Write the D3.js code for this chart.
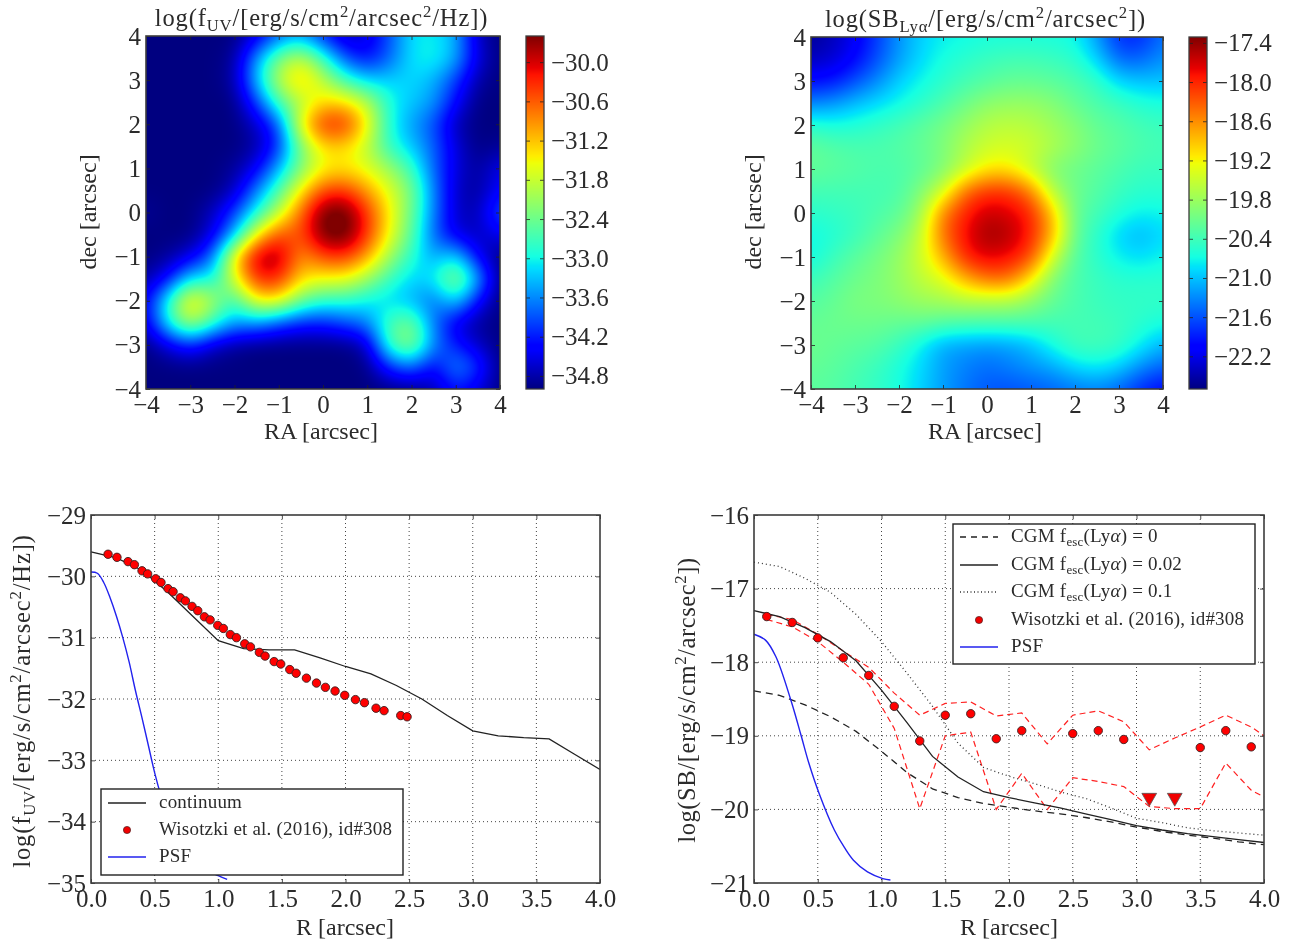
<!DOCTYPE html>
<html><head><meta charset="utf-8">
<script src="https://cdn.jsdelivr.net/npm/d3@7"></script>
<style>
html,body{margin:0;padding:0;background:#fff;}
#wrap{position:relative;width:1293px;height:945px;overflow:hidden;filter:blur(0.4px);}
canvas{position:absolute;}
svg{position:absolute;left:0;top:0;}
text{font-family:"Liberation Serif",serif;fill:#2b2b2b;}
</style></head><body><div id="wrap"></div>
<script>
// ---------- data ----------
const gridCoords = [-4,-3.5,-3,-2.5,-2,-1.5,-1,-0.5,0,0.5,1,1.5,2,2.5,3,3.5,4];
const rowCoords = [4,3.5,3,2.5,2,1.5,1,0.5,0,-0.5,-1,-1.5,-2,-2.5,-3,-3.5,-4];
const fuvMap = [
[-35,-35,-35,-35,-35,-34.57,-33.81,-33.49,-34.19,-34.73,-34.57,-33.92,-33.11,-33.06,-33.38,-34.73,-35],
[-35,-35,-35,-35,-34.89,-33.49,-32.3,-31.76,-32.73,-33.92,-34.35,-33.81,-33.11,-32.95,-33.38,-34.57,-35],
[-35,-35,-35,-35,-34.84,-33.27,-31.87,-31.11,-31.87,-32.73,-33.22,-33.22,-33.16,-33.38,-34.03,-34.84,-35],
[-35,-35,-35,-35,-35,-34.03,-32.62,-31.98,-31.33,-31.33,-31.87,-32.95,-33.27,-33.49,-34.35,-35,-35],
[-35,-35,-35,-35,-35,-34.68,-33.92,-31.44,-30.25,-30.25,-31.44,-32.95,-33.49,-33.92,-34.78,-35,-35],
[-35,-35,-35,-35,-35,-34.84,-34.14,-32.3,-31.33,-31.33,-31.87,-32.84,-33.27,-33.81,-34.57,-35,-34.89],
[-35,-35,-35,-35,-34.89,-34.46,-33.38,-32.3,-31.54,-31.44,-31.65,-32.08,-32.73,-33.81,-34.57,-34.89,-34.46],
[-35,-35,-35,-35,-34.73,-33.65,-32.62,-31.44,-30.46,-30.36,-31,-31.65,-32.3,-33.65,-34.68,-34.89,-34.35],
[-34.89,-35,-35,-34.73,-34.03,-32.95,-31.87,-30.68,-29.49,-29.38,-30.36,-31.44,-32.41,-33.65,-34.68,-34.78,-33.81],
[-35,-35,-35,-34.57,-33.38,-31.44,-30.46,-30.57,-29.49,-29.38,-30.36,-31.54,-32.52,-33.81,-34.57,-34.73,-34.46],
[-35,-34.89,-34.57,-33.81,-31.33,-29.82,-29.71,-31,-30.46,-30.36,-31,-32.08,-32.84,-33.49,-33.06,-34.46,-35],
[-34.84,-34.35,-33.06,-33.06,-31.65,-30.25,-30.25,-31.33,-31.54,-31.54,-32.08,-32.73,-33.22,-33.06,-31.98,-33.38,-35],
[-34.46,-32.84,-31.22,-31.98,-32.84,-31.44,-31.44,-32.41,-32.84,-32.84,-33.06,-33.22,-33.38,-33.81,-33.06,-34.35,-35],
[-34.57,-32.95,-31.87,-32.73,-33.49,-33.49,-33.92,-34.19,-34.19,-33.92,-33.65,-32.62,-32.3,-33.7,-34.57,-34.89,-35],
[-35,-34.57,-34.14,-34.68,-34.89,-35,-35,-35,-35,-35,-34.73,-32.62,-32.08,-33.6,-34.24,-34.68,-35],
[-35,-35,-35,-35,-35,-35,-35,-35,-35,-35,-35,-34.14,-33.7,-34.46,-33.49,-34.03,-35],
[-35,-35,-35,-35,-35,-35,-35,-35,-35,-35,-35,-35,-35,-34.78,-34.24,-34.57,-35]];
const sbMap = [
[-22.59,-22.43,-22.16,-21.73,-21.24,-20.92,-20.76,-20.71,-20.65,-20.65,-20.65,-20.65,-20.71,-21.2,-21.84,-21.84,-21.41],
[-22.43,-22.32,-22.05,-21.62,-21.19,-20.87,-20.65,-20.54,-20.44,-20.38,-20.38,-20.44,-20.54,-20.9,-21.51,-21.51,-21.24],
[-22.0,-21.95,-21.62,-21.3,-20.92,-20.71,-20.54,-20.38,-20.27,-20.17,-20.17,-20.22,-20.33,-20.49,-20.9,-21,-21],
[-21.35,-21.24,-21.03,-20.87,-20.71,-20.54,-20.33,-20.11,-19.9,-19.84,-19.84,-19.95,-20.17,-20.33,-20.44,-20.6,-20.65],
[-20.54,-20.65,-20.6,-20.49,-20.38,-20.22,-20.06,-19.84,-19.63,-19.57,-19.63,-19.79,-19.95,-20.17,-20.27,-20.38,-20.44],
[-20.17,-20.27,-20.33,-20.33,-20.27,-20.17,-20,-19.68,-19.47,-19.41,-19.47,-19.68,-19.9,-20.11,-20.22,-20.33,-20.38],
[-20.17,-20.22,-20.27,-20.33,-20.33,-20.22,-20.0,-19.57,-19.14,-19.14,-19.57,-20,-20.11,-20.22,-20.33,-20.44,-20.44],
[-20.38,-20.38,-20.38,-20.38,-20.33,-20,-19.47,-18.39,-18.06,-18.06,-18.5,-19.68,-20.11,-20.27,-20.44,-20.54,-20.54],
[-20.54,-20.49,-20.44,-20.33,-20.22,-19.79,-18.5,-17.96,-17.63,-17.74,-17.96,-18.93,-20.17,-20.38,-20.6,-20.76,-20.71],
[-20.71,-20.6,-20.44,-20.22,-20,-19.57,-18.39,-17.85,-17.42,-17.53,-17.96,-18.82,-20.17,-20.54,-20.92,-21.08,-20.87],
[-20.71,-20.44,-20.22,-20.06,-19.84,-19.47,-18.82,-17.96,-17.74,-17.85,-18.17,-19.47,-20.27,-20.54,-20.76,-20.87,-20.71],
[-20.44,-20.27,-20.11,-20,-19.84,-19.57,-19.36,-18.82,-18.39,-18.39,-19.14,-20,-20.33,-20.44,-20.54,-20.54,-20.54],
[-20.27,-20.17,-20,-20,-19.9,-19.79,-19.74,-19.63,-19.68,-19.68,-19.9,-20.17,-20.33,-20.44,-20.49,-20.49,-20.49],
[-20.17,-20.11,-20.11,-20.11,-20.17,-20.17,-20.27,-20.33,-20.33,-20.33,-20.33,-20.38,-20.38,-20.38,-20.44,-20.54,-20.65],
[-20.11,-20.17,-20.22,-20.27,-20.44,-20.76,-21.14,-21.19,-21.24,-21.19,-21.03,-20.65,-20.38,-20.38,-20.44,-20.76,-21.08],
[-20.17,-20.22,-20.33,-20.44,-20.65,-20.87,-21.19,-21.35,-21.46,-21.35,-21.24,-21.14,-20.87,-20.76,-20.92,-21.3,-21.51],
[-20.22,-20.27,-20.38,-20.49,-20.65,-20.92,-21.19,-21.41,-21.57,-21.62,-21.57,-21.51,-21.41,-21.35,-21.51,-21.84,-22.05]];
const mapTicks = [-4,-3,-2,-1,0,1,2,3,4];
const fuvBarTicks = [-30,-30.6,-31.2,-31.8,-32.4,-33,-33.6,-34.2,-34.8];
const sbBarTicks = [-17.4,-18,-18.6,-19.2,-19.8,-20.4,-21,-21.6,-22.2];
const fuvRange = [-35,-29.6];
const sbRange = [-22.7,-17.31];

const radiusTicks = [0,0.5,1,1.5,2,2.5,3,3.5,4];
const fuvYTicks = [-35,-34,-33,-32,-31,-30,-29];
const sbYTicks = [-21,-20,-19,-18,-17,-16];

const contR = [0,0.2,0.4,0.6,0.8,1,1.2,1.4,1.6,1.8,2,2.2,2.4,2.6,2.8,3,3.2,3.4,3.6,3.8,4];
const contV = [-29.6,-29.7,-29.9,-30.25,-30.65,-31.05,-31.18,-31.2,-31.2,-31.33,-31.47,-31.59,-31.78,-32,-32.27,-32.52,-32.6,-32.63,-32.65,-32.9,-33.15];
const psfUvR = [0,0.05,0.1,0.15,0.2,0.25,0.3,0.35,0.4,0.45,0.5,0.55,0.6,0.7,0.8,0.9,1,1.07];
const psfUvV = [-29.93,-29.95,-30.1,-30.35,-30.65,-31,-31.4,-31.87,-32.3,-32.75,-33.2,-33.58,-33.9,-34.35,-34.62,-34.78,-34.88,-34.94];
const wisUvR = [0.134,0.204,0.291,0.341,0.401,0.445,0.508,0.55,0.605,0.645,0.702,0.742,0.794,0.839,0.891,0.936,0.996,1.04,1.095,1.143,1.208,1.253,1.323,1.368,1.439,1.491,1.562,1.612,1.693,1.772,1.842,1.918,1.994,2.078,2.149,2.24,2.303,2.434,2.484];
const wisUvV = [-29.64,-29.69,-29.76,-29.81,-29.91,-29.96,-30.04,-30.1,-30.2,-30.25,-30.35,-30.4,-30.49,-30.56,-30.66,-30.71,-30.8,-30.85,-30.95,-31,-31.1,-31.15,-31.24,-31.3,-31.39,-31.43,-31.52,-31.58,-31.66,-31.74,-31.81,-31.87,-31.94,-32.01,-32.06,-32.15,-32.19,-32.27,-32.29];

const cgmR = contR;
const cgm0 = [-18.39,-18.45,-18.58,-18.74,-18.94,-19.21,-19.5,-19.72,-19.84,-19.92,-19.97,-20.02,-20.06,-20.11,-20.17,-20.24,-20.3,-20.35,-20.39,-20.44,-20.48];
const cgm002 = [-17.3,-17.38,-17.53,-17.72,-17.98,-18.38,-18.82,-19.28,-19.56,-19.76,-19.84,-19.91,-19.98,-20.06,-20.14,-20.22,-20.28,-20.33,-20.37,-20.41,-20.45];
const cgm01 = [-16.64,-16.7,-16.86,-17.05,-17.35,-17.72,-18.15,-18.6,-19.1,-19.43,-19.55,-19.65,-19.76,-19.85,-19.98,-20.12,-20.18,-20.25,-20.29,-20.32,-20.35];
const psfLyR = [0,0.09,0.17,0.29,0.37,0.43,0.51,0.63,0.71,0.78,0.89,1.01,1.07];
const psfLyV = [-17.62,-17.7,-17.92,-18.52,-19,-19.37,-19.78,-20.28,-20.52,-20.69,-20.85,-20.94,-20.96];
const wisLyR = [0.1,0.3,0.5,0.7,0.9,1.1,1.3,1.5,1.7,1.9,2.1,2.5,2.7,2.9,3.5,3.7,3.9];
const wisLyV = [-17.38,-17.46,-17.67,-17.94,-18.18,-18.6,-19.07,-18.72,-18.7,-19.04,-18.93,-18.97,-18.93,-19.05,-19.16,-18.93,-19.15];
const limR = [3.1,3.3];
const limV = [-19.84,-19.84];
const errR = [0.1,0.3,0.5,0.7,0.9,1.1,1.3,1.5,1.7,1.9,2.1,2.3,2.5,2.7,2.9,3.1,3.3,3.5,3.7,3.9,4];
const errHi = [-17.35,-17.42,-17.62,-17.85,-18.07,-18.42,-18.72,-18.56,-18.54,-18.73,-18.69,-19.11,-18.72,-18.66,-18.81,-19.19,-19.03,-18.88,-18.72,-18.88,-19];
const errLo = [-17.42,-17.52,-17.72,-18,-18.3,-18.9,-19.99,-19,-18.95,-20,-19.51,-20,-19.57,-19.62,-19.69,-19.96,-19.99,-19.99,-19.37,-19.74,-19.83];

// ---------- helpers ----------
const wrap = d3.select("#wrap");
const svg = wrap.append("svg").attr("width",1293).attr("height",945).style("z-index",2);
const rCh = d3.scaleLinear().domain([0,0.35,0.66,0.89,1]).range([0,0,1,1,0.5]).clamp(true);
const gCh = d3.scaleLinear().domain([0,0.125,0.375,0.64,0.91,1]).range([0,0,1,1,0,0]).clamp(true);
const bCh = d3.scaleLinear().domain([0,0.11,0.34,0.65,1]).range([0.5,1,1,0,0]).clamp(true);
const jet = t => [rCh(t)*255,gCh(t)*255,bCh(t)*255];
const AX = "#3c3c3c", TICKFONT = 25;

// cubic B-spline weights give the round, smooth contours of the source image
function bs(p0,p1,p2,p3,t){ const u=1-t;
  return (u*u*u*p0+(3*t*t*t-6*t*t+4)*p1+(-3*t*t*t+3*t*t+3*t+1)*p2+t*t*t*p3)/6; }
function sample(m,gx,gy){
  const n=m.length-1, cl=v=>Math.max(0,Math.min(n,v));
  const ix=Math.min(n-1,Math.floor(gx)), iy=Math.min(n-1,Math.floor(gy)), tx=gx-ix, ty=gy-iy;
  const col=[];
  for(let j=-1;j<=2;j++){ const r=m[cl(iy+j)];
    col.push(bs(r[cl(ix-1)],r[cl(ix)],r[cl(ix+1)],r[cl(ix+2)],tx)); }
  return bs(col[0],col[1],col[2],col[3],ty);
}
function addCanvas(x0,y0,w,h){
  return wrap.append("canvas").attr("width",w).attr("height",h)
    .style("left",x0+"px").style("top",y0+"px").style("z-index",1).node();
}
function rich(sel,parts,size,spacing){
  parts.forEach((p,i)=>{
    const [s,kind,style]=p, prev=i>0?parts[i-1][1]:null;
    const t=sel.append("tspan").text(s);
    if(style) t.style("font-style",style);
    if(spacing) t.style("letter-spacing",spacing+"px");
    let dy=0;
    if(prev==="sub") dy-=size*0.2;
    if(prev==="sup") dy+=size*0.36;
    if(kind==="sub") dy+=size*0.2;
    if(kind==="sup") dy-=size*0.36;
    if(dy) t.attr("dy",dy);
    t.style("font-size",(kind?size*0.68:size)+"px");
  });
}
function label(x,y,parts,size,rot,anchor,spacing){
  const t=svg.append("text").attr("text-anchor",anchor||"middle")
    .attr("transform",`translate(${x},${y})`+(rot?` rotate(${rot})`:""));
  rich(t,parts,size,spacing);
  return t;
}
function styleAxis(g){
  g.select(".domain").remove();
  g.selectAll("line").attr("stroke","#222").attr("stroke-width",0.8);
  g.selectAll("text").style("font-size",TICKFONT+"px").attr("fill","#2b2b2b");
}
function frame(x,y,t){
  const [x0,x1]=x.range(), [y0,y1]=y.range();
  const w=x1-x0,h=y0-y1;
  svg.append("g").attr("transform",`translate(0,${y0})`).call(d3.axisBottom(x).tickValues(t.xt).tickFormat(t.xfmt).tickSizeInner(-4).tickSizeOuter(0).tickPadding(6)).call(styleAxis);
  svg.append("g").attr("transform",`translate(0,${y1})`).call(d3.axisTop(x).tickValues(t.xt).tickFormat("").tickSizeInner(-4).tickSizeOuter(0)).call(styleAxis);
  svg.append("g").attr("transform",`translate(${x0},0)`).call(d3.axisLeft(y).tickValues(t.yt).tickFormat(t.yfmt).tickSizeInner(-4).tickSizeOuter(0).tickPadding(5)).call(styleAxis);
  svg.append("g").attr("transform",`translate(${x1},0)`).call(d3.axisRight(y).tickValues(t.yt).tickFormat("").tickSizeInner(-4).tickSizeOuter(0)).call(styleAxis);
  svg.append("rect").attr("x",x0).attr("y",y1).attr("width",w).attr("height",h)
    .attr("fill","none").attr("stroke",AX).attr("stroke-width",1.6);
}
function heatPanel(o){
  const W=o.x1-o.x0,H=o.y1-o.y0;
  const x=d3.scaleLinear().domain([-4,4]).range([o.x0,o.x1]);
  const y=d3.scaleLinear().domain([-4,4]).range([o.y1,o.y0]);
  const color=d3.scaleLinear().domain(o.range).range([0,1]).clamp(true);
  const gxs=d3.scaleLinear().domain(d3.extent(gridCoords)).range([0,gridCoords.length-1]);
  const gys=d3.scaleLinear().domain(d3.extent(rowCoords)).range([rowCoords.length-1,0]);
  const cv=addCanvas(o.x0,o.y0,W,H), c=cv.getContext("2d"), im=c.createImageData(W,H);
  for(let j=0;j<H;j++)for(let i=0;i<W;i++){
    const v=sample(o.data,gxs(x.invert(o.x0+i+0.5)),gys(y.invert(o.y0+j+0.5)));
    const rgb=jet(color(v)),k=(j*W+i)*4;
    im.data[k]=rgb[0];im.data[k+1]=rgb[1];im.data[k+2]=rgb[2];im.data[k+3]=255;
  }
  c.putImageData(im,0,0);
  frame(x,y,{xt:mapTicks,yt:mapTicks,xfmt:d3.format("d"),yfmt:d3.format("d")});
  const BW=o.bx1-o.bx0;
  const by=d3.scaleLinear().domain(o.range).range([o.y1,o.y0]);
  const bc=addCanvas(o.bx0,o.y0,BW,H), c2=bc.getContext("2d");
  for(let j=0;j<H;j++){
    const rgb=jet(color(by.invert(o.y0+j+0.5)));
    c2.fillStyle=`rgb(${rgb.map(Math.round).join(",")})`; c2.fillRect(0,j,BW,1);
  }
  svg.append("g").attr("transform",`translate(${o.bx1},0)`)
    .call(d3.axisRight(by).tickValues(o.barTicks).tickFormat(d3.format(".1f")).tickSizeInner(-4).tickSizeOuter(0).tickPadding(7)).call(styleAxis);
  svg.append("g").attr("transform",`translate(${o.bx0},0)`)
    .call(d3.axisLeft(by).tickValues(o.barTicks).tickFormat("").tickSizeInner(-4).tickSizeOuter(0)).call(styleAxis);
  svg.append("rect").attr("x",o.bx0).attr("y",o.y0).attr("width",BW).attr("height",H)
    .attr("fill","none").attr("stroke",AX).attr("stroke-width",1.3);
  label((o.x0+o.x1)/2-1.5,o.y0-10,o.title,24.5,0,"middle",0.85);
  label((o.x0+o.x1)/2-2,439,[["RA [arcsec]"]],24);
  label(o.x0-50,212,[["dec [arcsec]"]],24,-90);
}
heatPanel({x0:146,x1:500,y0:36,y1:389,bx0:526,bx1:544,data:fuvMap,range:fuvRange,barTicks:fuvBarTicks,
  title:[["log(f"],["UV","sub"],["/[erg/s/cm"],["2","sup"],["/arcsec"],["2","sup"],["/Hz])"]]});
heatPanel({x0:811,x1:1163,y0:37,y1:389,bx0:1189,bx1:1207,data:sbMap,range:sbRange,barTicks:sbBarTicks,
  title:[["log(SB"],["Lyα","sub"],["/[erg/s/cm"],["2","sup"],["/arcsec"],["2","sup"],["])"]]});

function linePanel(x0,x1,yDom,yTicks){
  const x=d3.scaleLinear().domain([0,4]).range([x0,x1]);
  const y=d3.scaleLinear().domain(yDom).range([883,515]);
  const grid=svg.append("g").attr("stroke","#444").attr("stroke-width",1).attr("stroke-dasharray","1,3");
  radiusTicks.slice(1,-1).forEach(r=>grid.append("line").attr("x1",x(r)).attr("x2",x(r)).attr("y1",515).attr("y2",883));
  yTicks.slice(1,-1).forEach(v=>grid.append("line").attr("x1",x0).attr("x2",x1).attr("y1",y(v)).attr("y2",y(v)));
  return {x,y};
}
function drawLine(p,xs,ys,color,dash,w,curve){
  const l=d3.line().x(d=>p.x(d[0])).y(d=>p.y(d[1])).curve(curve||d3.curveLinear);
  svg.append("path").attr("d",l(d3.zip(xs,ys))).attr("fill","none").attr("stroke",color)
    .attr("stroke-width",w||1.3).attr("stroke-dasharray",dash||null);
}
function drawDots(p,xs,ys){
  svg.append("g").selectAll("circle").data(d3.zip(xs,ys)).join("circle")
    .attr("cx",d=>p.x(d[0])).attr("cy",d=>p.y(d[1])).attr("r",4.2)
    .attr("fill","#ff0000").attr("stroke","#3a2020").attr("stroke-width",0.9);
}
function legend(x,y,w,h,rows){
  svg.append("rect").attr("x",x).attr("y",y).attr("width",w).attr("height",h)
    .attr("fill","#fff").attr("stroke","#222").attr("stroke-width",1.4);
  rows.forEach(r=>{
    const ly=r.y;
    if(r.dot){ svg.append("circle").attr("cx",x+26).attr("cy",ly).attr("r",3.6).attr("fill","#f00000").attr("stroke","#4a2020").attr("stroke-width",0.7); }
    else svg.append("line").attr("x1",x+7).attr("x2",x+45).attr("y1",ly).attr("y2",ly).attr("stroke",r.color).attr("stroke-width",r.w||1.3).attr("stroke-dasharray",r.dash||null);
    label(x+58,ly+5,r.text,19,0,"start",0.2);
  });
}
const wisText=[["Wisotzki et al. (2016),  id#308"]];

// panel 3
const p3=linePanel(91,600,[-35,-29],fuvYTicks);
drawLine(p3,contR,contV,"#222");
drawLine(p3,psfUvR,psfUvV,"#2222ee",null,1.4,d3.curveCatmullRom);
drawDots(p3,wisUvR,wisUvV);
frame(p3.x,p3.y,{xt:radiusTicks,yt:fuvYTicks,xfmt:d3.format(".1f"),yfmt:d3.format("d")});
legend(101,789,302,86,[
 {y:803,color:"#222",text:[["continuum"]]},
 {y:830,dot:true,text:wisText},
 {y:857,color:"#2222ee",text:[["PSF"]]}]);
label(345,935,[["R [arcsec]"]],24);
label(30,701,[["log(f"],["UV","sub"],["/[erg/s/cm"],["2","sup"],["/arcsec"],["2","sup"],["/Hz])"]],24.5,-90,"middle",0.85);

// panel 4
const p4=linePanel(754,1264,[-21,-16],sbYTicks);
drawLine(p4,errR,errHi,"#ff2020","6,4",1.2);
drawLine(p4,errR,errLo,"#ff2020","6,4",1.2);
drawLine(p4,cgmR,cgm0,"#222","7,5");
drawLine(p4,cgmR,cgm002,"#222");
drawLine(p4,cgmR,cgm01,"#333","1,3");
drawLine(p4,psfLyR,psfLyV,"#2222ee",null,1.4,d3.curveCatmullRom);
drawDots(p4,wisLyR,wisLyV);
svg.append("g").selectAll("path").data(d3.zip(limR,limV)).join("path")
  .attr("d",d3.symbol(d3.symbolTriangle,95)())
  .attr("transform",d=>`translate(${p4.x(d[0])},${p4.y(d[1])}) rotate(180)`)
  .attr("fill","#f00000").attr("stroke","#555").attr("stroke-width",0.8);
frame(p4.x,p4.y,{xt:radiusTicks,yt:sbYTicks,xfmt:d3.format(".1f"),yfmt:d3.format("d")});
const cgmLabel=v=>[["CGM f"],["esc","sub"],["(Ly"],["α",null,"italic"],[") = "+v]];
legend(953,524,302,140,[
 {y:537,color:"#222",dash:"6,5",text:cgmLabel("0")},
 {y:565,color:"#222",text:cgmLabel("0.02")},
 {y:592,color:"#333",dash:"1,2.5",text:cgmLabel("0.1")},
 {y:620,dot:true,text:wisText},
 {y:647,color:"#2222ee",text:[["PSF"]]}]);
label(1009,935,[["R [arcsec]"]],24);
label(695,700,[["log(SB/[erg/s/cm"],["2","sup"],["/arcsec"],["2","sup"],["])"]],24.5,-90,"middle",0.6);
</script></body></html>
